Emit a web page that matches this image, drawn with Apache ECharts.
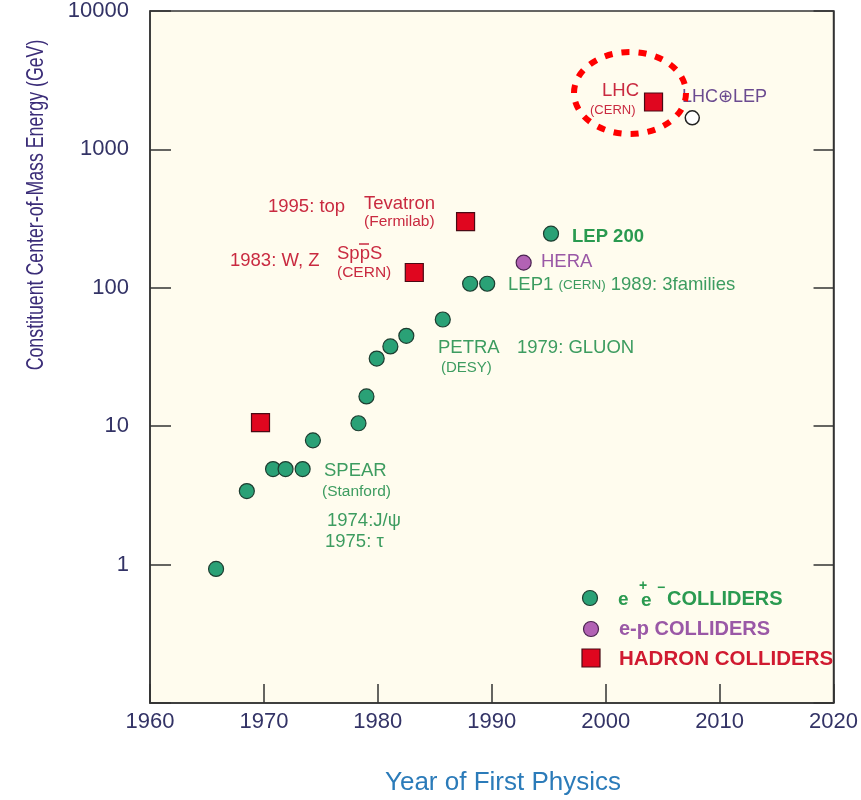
<!DOCTYPE html>
<html><head><meta charset="utf-8">
<script src="https://cdn.jsdelivr.net/npm/echarts@6/dist/echarts.min.js"></script>
<style>html,body{margin:0;padding:0;background:#fff}#c{width:861px;height:800px}</style>
</head><body><div id="c"></div>
<script>
// ---- data ----
const eeYears   = [1965.8, 1968.5, 1970.8, 1971.9, 1973.4, 1974.3, 1978.3, 1979.0, 1979.9, 1981.1, 1982.5, 1985.7, 1988.1, 1989.6, 1995.2];
const eeEnergy  = [0.93, 3.4, 4.9, 4.9, 4.9, 7.9, 10.5, 16.4, 30.8, 37.7, 45, 59, 107, 107, 246];
const epYears   = [1992.8];
const epEnergy  = [152];
const hadronYears  = [1969.7, 1983.2, 1987.7, 2004.2];
const hadronEnergy = [10.6, 129, 301, 2200];
const lhcLepYears  = [2007.6];
const lhcLepEnergy = [1690];
const xTickLabels = [1960, 1970, 1980, 1990, 2000, 2010, 2020];
const yTickLabels = [1, 10, 100, 1000, 10000];

const zip = (a, b) => a.map((v, i) => [v, b[i]]);
const FONT = 'Liberation Sans, Arial, sans-serif';
const RED = '#c92a40', GREEN = '#3d9c60', PURPLE = '#9a58a6';

const chart = echarts.init(document.getElementById('c'), null, {renderer: 'canvas'});

function t(x, y, text, size, color, opts) {
  return Object.assign({
    type: 'text', x: x, y: y, z: 10,
    style: Object.assign({text: text, fontFamily: FONT, fontSize: size, fill: color,
      align: 'left', verticalAlign: 'middle'}, (opts && opts.style) || {})
  }, (opts && opts.el) || {});
}

const option = {
  animation: false,
  backgroundColor: '#ffffff',
  grid: {left: 150, top: 10, width: 686, height: 693, show: true,
    backgroundColor: '#fffcee', borderColor: '#333333', borderWidth: 1.5},
  xAxis: {
    type: 'value', min: 1960, max: 2020, interval: 10,
    axisLine: {show: true, lineStyle: {color: '#333', width: 1.5}},
    axisTick: {show: true, inside: true, length: 19, lineStyle: {color: '#333', width: 1.5}},
    axisLabel: {color: '#333366', fontSize: 22, fontFamily: FONT, margin: 8,
      formatter: v => xTickLabels.includes(v) ? String(v) : ''},
    splitLine: {show: false}
  },
  yAxis: [{
    type: 'log', logBase: 10, min: 0.1, max: 10000,
    axisLine: {show: true, lineStyle: {color: '#333', width: 1.5}},
    axisTick: {show: true, inside: true, length: 21, lineStyle: {color: '#333', width: 1.5}},
    axisLabel: {color: '#333366', fontSize: 22, fontFamily: FONT, margin: 21,
      formatter: v => yTickLabels.includes(Math.round(v)) && v >= 1 ? String(Math.round(v)) : ''},
    splitLine: {show: false}
  }, {
    type: 'log', logBase: 10, min: 0.1, max: 10000, position: 'right',
    axisLine: {show: true, lineStyle: {color: '#333', width: 1.5}},
    axisTick: {show: true, inside: true, length: 20, lineStyle: {color: '#333', width: 1.5}},
    axisLabel: {show: false}, splitLine: {show: false}
  }],
  series: [
    {name: 'e+e- colliders', type: 'scatter', data: zip(eeYears, eeEnergy), symbol: 'circle', symbolSize: 15,
      itemStyle: {color: '#2aa176', borderColor: '#1d3d30', borderWidth: 1.2, opacity: 1}},
    {name: 'e-p colliders', type: 'scatter', data: zip(epYears, epEnergy), symbol: 'circle', symbolSize: 15,
      itemStyle: {color: '#b262b4', borderColor: '#4a2350', borderWidth: 1.2, opacity: 1}},
    {name: 'hadron colliders', type: 'scatter', data: zip(hadronYears, hadronEnergy), symbol: 'rect', symbolSize: 18,
      itemStyle: {color: '#e0061f', borderColor: '#4a0a14', borderWidth: 1.2, opacity: 1}},
    {name: 'LHC+LEP', type: 'scatter', data: zip(lhcLepYears, lhcLepEnergy), symbol: 'circle', symbolSize: 14,
      itemStyle: {color: '#ffffff', borderColor: '#222', borderWidth: 1.5, opacity: 1}}
  ],
  graphic: [
    // axis titles
    t(36, 205, 'Constituent Center-of-Mass Energy (GeV)', 24, '#3b2d78',
      {style: {align: 'center'}, el: {rotation: Math.PI / 2, scaleX: 0.74}}),
    t(503, 783, 'Year of First Physics', 26, '#2b7bb9', {style: {align: 'center'}}),
    // hadron annotations
    t(268, 207, '1995: top', 18.5, RED),
    t(364, 204, 'Tevatron', 18.5, RED),
    t(364, 222, '(Fermilab)', 15.5, RED),
    t(230, 261, '1983: W, Z', 18.5, RED),
    t(337, 254, 'SppS', 18.5, RED),
    {type: 'line', z: 10, shape: {x1: 359, y1: 244, x2: 369, y2: 244}, style: {stroke: RED, lineWidth: 1.5}},
    t(337, 273, '(CERN)', 15.5, RED),
    t(602, 91, 'LHC', 18.5, RED),
    t(590, 110, '(CERN)', 13, RED),
    t(682, 97, 'LHC\u2295LEP', 18, '#6b4b90'),
    {type: 'ellipse', z: 11, shape: {cx: 630, cy: 93, rx: 56, ry: 41},
      style: {fill: 'none', stroke: '#ff0000', lineWidth: 6, lineDash: [8, 9]}},
    // e+e- annotations
    t(572, 237, 'LEP 200', 18.5, '#2a9a50', {style: {fontWeight: 'bold'}}),
    t(541, 262, 'HERA', 18.5, PURPLE),
    {type: 'text', x: 508, y: 285, z: 10, style: {
      text: '{a|LEP1 }{b|(CERN)}{a| 1989: 3families}',
      verticalAlign: 'middle', align: 'left',
      rich: {a: {fontFamily: FONT, fontSize: 18.5, fill: GREEN, color: GREEN},
             b: {fontFamily: FONT, fontSize: 13.5, fill: GREEN, color: GREEN}}}},
    t(438, 348, 'PETRA', 18.5, GREEN),
    t(441, 368, '(DESY)', 15, GREEN),
    t(517, 348, '1979: GLUON', 18.5, GREEN),
    t(324, 471, 'SPEAR', 18.5, GREEN),
    t(322, 492, '(Stanford)', 15.5, GREEN),
    t(327, 521, '1974:J/\u03c8', 18.5, GREEN),
    t(325, 542, '1975: \u03c4', 18.5, GREEN),
    // legend
    {type: 'circle', z: 10, shape: {cx: 590, cy: 598, r: 7.5}, style: {fill: '#2aa176', stroke: '#1d3d30', lineWidth: 1.2}},
    {type: 'circle', z: 10, shape: {cx: 591, cy: 629, r: 7.5}, style: {fill: '#b262b4', stroke: '#4a2350', lineWidth: 1.2}},
    {type: 'rect', z: 10, shape: {x: 582, y: 649, width: 18, height: 18}, style: {fill: '#e0061f', stroke: '#4a0a14', lineWidth: 1.2}},
    t(618, 600, 'e', 19, '#2a9a50', {style: {fontWeight: 'bold'}}),
    t(641, 601, 'e', 19, '#2a9a50', {style: {fontWeight: 'bold'}}),
    t(639, 586, '+', 14, '#2a9a50', {style: {fontWeight: 'bold'}}),
    t(657, 588, '\u2212', 14, '#2a9a50', {style: {fontWeight: 'bold'}}),
    t(667, 599, 'COLLIDERS', 20, '#2a9a50', {style: {fontWeight: 'bold'}}),
    t(619, 629, 'e-p COLLIDERS', 20, '#9a58a6', {style: {fontWeight: 'bold'}}),
    t(619, 659, 'HADRON COLLIDERS', 20.5, '#d01a30', {style: {fontWeight: 'bold'}})
  ]
};
chart.setOption(option);
</script></body></html>
